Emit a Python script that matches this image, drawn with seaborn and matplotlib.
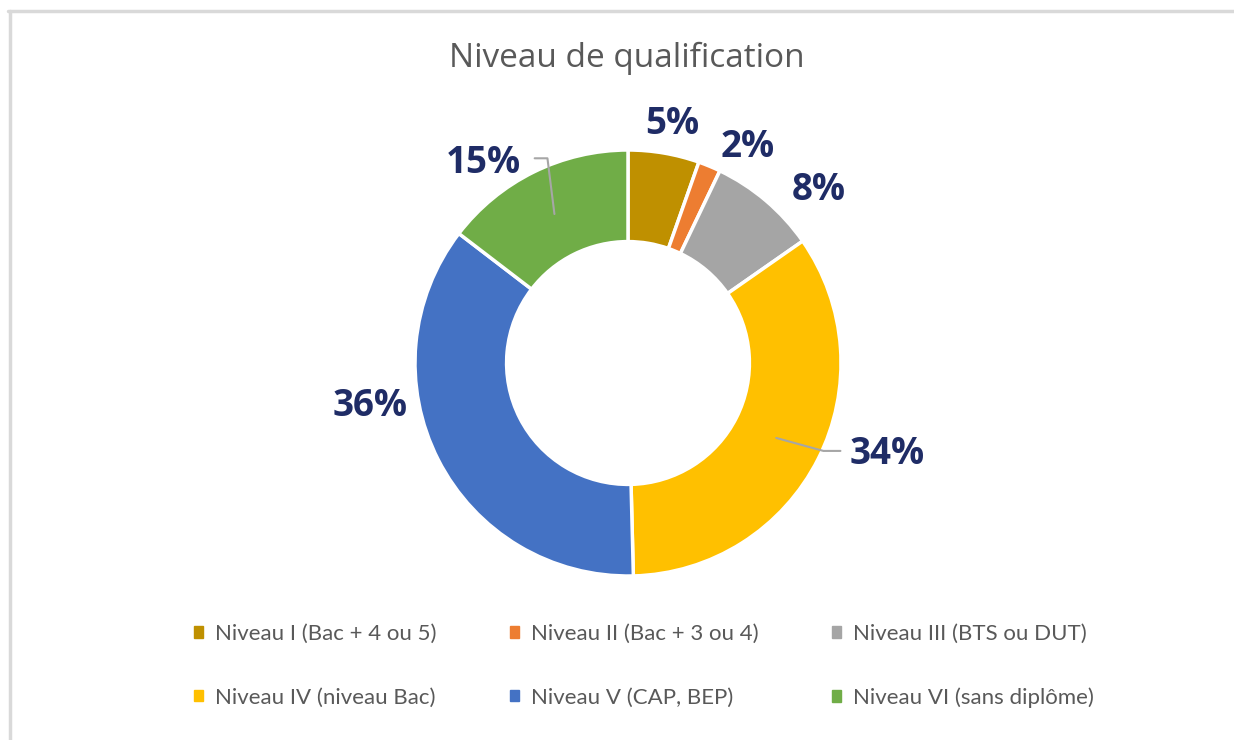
# plot.py - donut chart "Niveau de qualification"

import numpy as np
import matplotlib
matplotlib.use("Agg")
import matplotlib.pyplot as plt
import seaborn as sns

# Data
categories = [
    "Niveau I (Bac + 4 ou 5)",
    "Niveau II (Bac + 3 ou 4)",
    "Niveau III (BTS ou DUT)",
    "Niveau IV (niveau Bac)",
    "Niveau V (CAP, BEP)",
    "Niveau VI (sans diplôme)",
]
shares = [5.4, 1.7, 8.2, 34.3, 35.8, 14.6]
colors = ["#BF9000", "#ED7D31", "#A5A5A5", "#FFC000", "#4472C4", "#70AD47"]

# label placement: (clockwise nudge in degrees, distance in radii), one per slice
label_nudge = [(0.8, 1.14), (6.5, 1.16), (7.5, 1.21), (-7.5, 1.29), (17.5, 1.23), (-9.5, 1.16)]
leader = [False, False, False, True, False, True]

sns.set_theme(style="white")
plt.rcParams["font.family"] = ["Open Sans", "DejaVu Sans"]

fig = plt.figure(figsize=(12.34, 7.4), dpi=100)
fig.patch.set_facecolor("white")

# pie axes, centred at (628, 363) px with radius 213 px
R_px = 213
cx, cy = 628, 363
W, H = 1234, 740
ax = fig.add_axes([(cx - R_px) / W, 1 - (cy + R_px) / H, 2 * R_px / W, 2 * R_px / H])

wedges, _ = ax.pie(
    shares,
    colors=colors,
    startangle=90,
    counterclock=False,
    radius=1.0,
    wedgeprops=dict(width=0.43, edgecolor="white", linewidth=2.5),
)
ax.set_xlim(-1, 1)
ax.set_ylim(-1, 1)
ax.set_aspect("equal")
ax.axis("off")

navy = "#1F2C66"
grey_line = "#A6A6A6"
for w, v, (dang, dist), lead in zip(wedges, shares, label_nudge, leader):
    mid = np.deg2rad((w.theta1 + w.theta2) / 2)
    lab = mid - np.deg2rad(dang)
    tx, ty = dist * np.cos(lab), dist * np.sin(lab)
    ax.text(tx, ty, f"{round(v):d}%", ha="center", va="center",
            fontsize=26.5, fontweight="bold", color=navy,
            family=["Open Sans", "DejaVu Sans"], clip_on=False)
    if lead:
        px, py = 0.78 * np.cos(mid), 0.78 * np.sin(mid)
        if tx > 0:
            ax.plot([tx - 0.22, tx - 0.30, px], [ty + 0.014, ty + 0.014, py],
                    color=grey_line, lw=1.5, clip_on=False)
        else:
            ax.plot([tx + 0.24, tx + 0.30, px], [ty + 0.02, ty + 0.02, py],
                    color=grey_line, lw=1.5, clip_on=False)

fig.text(0.508, 1 - 58 / H, "Niveau de qualification", ha="center", va="center",
         fontsize=24, color="#595959")

# legend: row-wise order I, II, III / IV, V, VI
order = [0, 3, 1, 4, 2, 5]
handles = [plt.Rectangle((0, 0), 1, 1, color=colors[i]) for i in order]
labels = [categories[i] for i in order]
fig.legend(handles, labels, ncol=3, loc="center", bbox_to_anchor=(0.522, 1 - 666 / H),
           frameon=False, labelcolor="#595959",
           handlelength=0.4, handleheight=0.4, handletextpad=0.55,
           columnspacing=3.3, labelspacing=1.95,
           prop={"family": ["Lato", "DejaVu Sans"], "size": 16})

# thin grey frame lines (top and left)
fig.add_artist(plt.Line2D([8 / W, 1], [1 - 11 / H, 1 - 11 / H], color="#D9D9D9", lw=2.5))
fig.add_artist(plt.Line2D([10 / W, 10 / W], [0, 1 - 11 / H], color="#D9D9D9", lw=2.5))

fig.savefig("out.png", dpi=100, facecolor="white")
